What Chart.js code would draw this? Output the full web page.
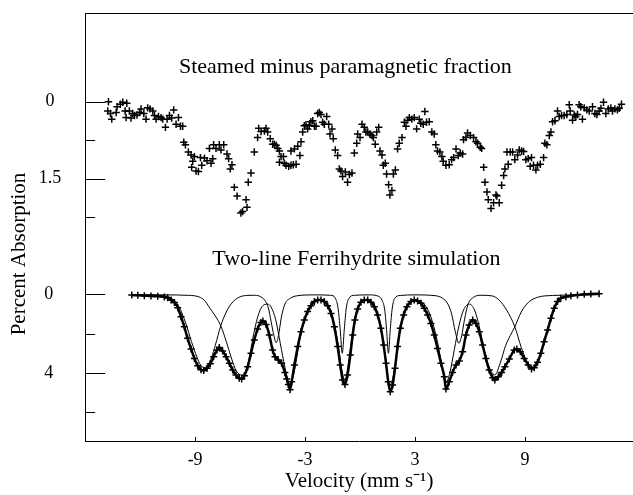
<!DOCTYPE html>
<html>
<head>
<meta charset="utf-8">
<script src="https://cdn.jsdelivr.net/npm/chart.js@4.4.0/dist/chart.umd.min.js"></script>
<style>
  body { margin: 0; background: #fff; }
  canvas { display: block; }
</style>
</head>
<body>
<canvas id="myChart" width="633" height="495"></canvas>
<script>

// upper spectrum: steamed minus paramagnetic fraction (velocity, % absorption)
var topVel = [-13.73,-13.77,-13.62,-13.55,-13.31,-13.26,-13.08,-12.95,-12.82,-12.73,-12.77,-12.59,-12.50,-12.41,-12.31,-12.17,-12.04,-11.95,-11.80,-11.68,
  -11.59,-11.46,-11.31,-11.22,-11.13,-11.00,-10.86,-10.77,-10.62,-10.53,-10.40,-10.28,-10.17,-10.04,-9.91,-9.80,-9.68,-9.62,-9.53,-9.37,
  -9.22,-9.13,-9.19,-9.04,-8.95,-8.82,-8.71,-8.64,-8.49,-8.35,-8.22,-8.13,-8.04,-7.99,-7.86,-7.68,-7.59,-7.44,-7.26,-7.17,
  -7.08,-6.99,-6.86,-6.71,-6.50,-6.41,-6.22,-6.17,-6.10,-5.95,-5.77,-5.59,-5.53,-5.40,-5.22,-5.13,-5.04,-4.90,-4.77,
  -4.68,-4.58,-4.49,-4.40,-4.31,-4.40,-4.18,-4.13,-4.04,-3.89,-3.77,-3.77,-3.64,-3.58,-3.49,-3.40,-3.28,-3.22,-3.13,-3.04,
  -2.95,-2.86,-2.77,-2.68,-2.58,-2.49,-2.40,-2.31,-2.22,-2.13,-2.04,-1.95,-1.82,-1.71,-1.64,-1.53,-1.46,-1.35,-1.22,-1.13,
  -1.04,-0.95,-0.80,-0.68,-0.58,-0.44,-0.31,-0.18,-0.13,0.00,0.11,0.23,0.32,0.42,0.54,0.65,0.73,0.83,0.91,1.02,
  1.09,1.20,1.27,1.38,1.45,1.56,1.74,1.63,1.82,1.93,2.05,2.14,2.29,2.42,2.51,2.60,2.69,2.83,2.96,3.09,
  3.23,3.32,3.45,3.54,3.63,3.78,3.92,4.05,4.14,4.23,4.36,4.47,4.54,4.69,
  4.87,5.00,5.11,5.24,5.36,5.47,5.60,5.65,5.78,5.87,6.02,6.20,6.33,6.42,6.56,6.64,6.75,6.82,6.93,7.00,
  7.15,7.29,7.42,7.47,7.60,7.73,7.84,7.91,8.02,8.09,8.20,8.33,8.45,8.60,8.69,8.82,8.93,9.05,9.18,9.29,
  9.36,9.47,9.60,9.69,9.84,10.02,10.09,10.20,10.33,10.42,10.51,10.64,10.78,10.87,11.00,11.14,11.29,11.42,11.47,11.60,
  11.69,11.78,11.87,11.96,12.05,12.14,12.24,12.38,12.51,12.69,12.82,12.93,13.05,13.15,13.29,13.42,13.55,13.69,13.78,13.91,
  14.05,14.15,14.27];
var topAbs = [0.00,0.18,0.23,0.34,0.21,0.10,0.05,0.01,0.18,0.03,0.31,0.18,0.32,0.23,0.27,0.26,0.21,0.14,0.23,0.34,
  0.12,0.14,0.18,0.27,0.34,0.29,0.31,0.34,0.50,0.34,0.27,0.32,0.16,0.44,0.31,0.48,0.48,0.79,0.84,0.98,
  1.04,1.16,1.28,1.07,1.35,1.36,1.09,1.24,1.10,1.15,0.91,1.20,1.11,0.84,0.91,0.84,0.94,0.84,1.02,1.11,
  1.31,1.23,1.67,1.84,2.17,2.14,1.91,2.06,1.57,1.39,0.98,0.70,0.52,0.58,0.57,0.52,0.59,0.72,0.83,
  0.83,0.85,0.91,0.96,1.07,1.18,1.07,1.20,1.24,1.26,0.96,1.24,1.23,0.92,1.22,0.87,1.05,0.78,0.59,0.47,
  0.45,0.53,0.47,0.39,0.37,0.48,0.48,0.23,0.21,0.25,0.40,0.44,0.29,0.44,0.63,0.53,0.72,0.94,1.05,1.31,
  1.35,1.46,1.37,1.57,1.42,1.39,1.00,0.81,0.63,0.70,0.44,0.50,0.59,0.59,0.63,0.66,0.70,0.83,0.59,0.50,
  0.96,1.04,1.24,1.20,1.41,1.62,1.73,1.82,1.41,1.33,0.92,0.81,0.70,0.40,0.48,0.36,0.31,0.34,0.31,0.53,
  0.34,0.42,0.44,0.19,0.40,0.39,0.59,0.63,0.84,0.96,0.98,1.07,1.16,1.24,
  1.23,1.13,1.09,0.92,1.05,1.00,1.02,0.74,0.70,0.61,0.66,0.70,0.78,0.81,0.89,0.91,1.28,1.57,1.76,1.91,
  2.08,1.97,1.82,1.84,1.97,1.63,1.44,1.31,0.98,1.22,0.98,0.98,1.13,1.04,0.94,0.96,0.97,1.13,1.11,1.26,
  1.09,1.24,1.33,1.24,1.22,1.09,0.81,0.84,0.66,0.59,0.39,0.37,0.18,0.29,0.27,0.27,0.25,0.06,0.18,0.36,
  0.26,0.29,0.25,0.06,0.10,0.34,0.12,0.16,0.18,0.10,0.23,0.25,0.18,0.13,0.01,0.23,0.14,0.12,0.18,0.14,
  0.16,0.13,0.05];

// lower spectrum: two-line ferrihydrite simulation, total
var simVel = [-12.46,-12.13,-11.77,-11.41,-11.04,-10.68,-10.50,-10.31,-10.13,-9.95,-9.77,-9.59,-9.41,-9.22,-9.04,-8.86,-8.68,-8.53,-8.35,-8.17,
  -7.99,-7.81,-7.68,-7.50,-7.31,-7.13,-6.95,-6.77,-6.59,-6.46,-6.31,-6.13,-5.95,-5.77,-5.59,-5.41,-5.30,-5.13,-4.95,-4.77,
  -4.64,-4.46,-4.28,-4.10,-4.00,-3.91,-3.82,-3.73,-3.58,-3.40,-3.22,-3.04,-2.86,-2.68,-2.49,-2.31,-2.13,-1.95,-1.77,-1.58,
  -1.40,-1.22,-1.08,-0.95,-0.82,-0.68,-0.53,-0.40,-0.28,-0.13,0.05,0.23,0.42,0.60,0.78,0.96,1.14,1.29,1.42,1.54,
  1.65,1.78,1.91,2.05,2.20,2.38,2.56,2.78,2.96,3.14,3.33,3.51,3.69,3.87,4.05,4.23,4.42,4.60,4.69,4.87,
  5.05,5.24,5.42,5.60,5.78,5.96,6.15,6.33,6.51,6.69,6.87,7.05,7.24,7.36,7.55,7.73,7.91,8.15,8.42,8.56,
  8.75,8.96,9.18,9.36,9.51,9.69,9.87,10.05,10.24,10.42,10.60,10.78,10.96,11.24,11.51,11.87,12.24,12.60,13.05];
var simTotal = [0.04,0.05,0.07,0.09,0.10,0.14,0.17,0.29,0.42,0.68,1.14,1.65,2.24,2.78,3.26,3.63,3.83,3.87,3.76,3.53,
  3.17,2.83,2.71,2.88,3.17,3.51,3.85,4.10,4.27,4.31,4.14,3.68,3.00,2.32,1.76,1.43,1.36,1.53,2.07,2.83,
  3.17,3.34,3.51,3.97,4.30,4.58,4.85,4.44,3.59,2.66,1.90,1.31,0.88,0.58,0.37,0.29,0.29,0.37,0.58,0.97,
  1.65,2.66,3.59,4.36,4.58,4.10,3.09,2.07,1.31,0.75,0.41,0.29,0.29,0.41,0.63,1.05,1.73,2.58,3.51,4.44,
  4.95,4.61,3.76,2.66,1.73,1.05,0.63,0.37,0.29,0.34,0.46,0.71,1.05,1.48,2.07,2.75,3.51,4.19,4.81,4.44,
  3.97,3.59,3.39,2.92,2.07,1.56,1.31,1.48,1.90,2.58,3.26,3.85,4.24,4.36,4.19,3.97,3.68,3.29,2.83,2.78,
  2.92,3.26,3.59,3.80,3.73,3.46,3.00,2.41,1.82,1.22,0.71,0.37,0.20,0.12,0.07,0.04,0.00,-0.02,-0.03];

// sextet component with outer lines at -8.5 / 9.4
var compAVel = [-12.5,-11.5,-10.8,-10.3,-9.9,-9.5,-9.2,-8.9,-8.7,-8.5,-8.3,-8.1,-7.9,-7.6,-7.3,-7.0,-6.6,-6.2,-5.8,-5.5,
  -5.2,-5.0,-4.85,-4.7,-4.58,-4.45,-4.3,-4.1,-3.8,-3.4,-2.5,-1.6,-1.35,-1.2,-1.08,-0.97,-0.86,-0.75,-0.6,-0.3,
  0.5,1.0,1.2,1.35,1.45,1.55,1.65,1.76,1.9,2.2,3.0,4.1,4.5,4.8,5.0,5.2,5.4,5.55,5.7,5.9,
  6.2,6.6,7.2,7.6,8.0,8.45,8.8,9.1,9.36,9.6,9.9,10.2,10.5,10.8,11.1,11.6,13.05];
var compA = [0.02,0.03,0.06,0.2,0.6,1.5,2.4,3.2,3.6,3.72,3.6,3.2,2.6,1.6,0.9,0.45,0.15,0.06,0.05,0.09,
  0.3,0.7,1.4,2.1,2.46,2.1,1.2,0.5,0.2,0.07,0.03,0.05,0.2,0.7,1.8,3.0,1.8,0.7,0.2,0.05,
  0.03,0.1,0.3,0.8,1.8,3.0,1.8,0.7,0.2,0.06,0.03,0.07,0.2,0.5,1.0,1.9,2.49,2.1,1.3,0.5,
  0.15,0.05,0.08,0.3,0.8,1.65,2.7,3.4,3.7,3.5,2.9,1.9,1.0,0.4,0.15,0.05,0.0];

// sextet component with outer lines at -6.5 / 7.4
var compBVel = [-12.5,-10.5,-9.5,-8.9,-8.5,-8.2,-7.9,-7.6,-7.3,-7.0,-6.75,-6.46,-6.2,-6.0,-5.8,-5.6,-5.4,-5.2,-5.04,-4.85,
  -4.6,-4.35,-4.1,-3.85,-3.65,-3.45,-3.2,-2.9,-2.6,-2.3,-2.0,-1.7,-1.45,-1.2,-1.0,-0.82,-0.65,-0.45,-0.25,0.0,
  0.3,0.6,0.9,1.15,1.35,1.5,1.65,1.8,2.0,2.2,2.45,2.8,3.1,3.5,3.85,4.2,4.45,4.69,4.9,5.15,
  5.4,5.65,5.96,6.25,6.5,6.8,7.05,7.36,7.65,7.95,8.2,8.45,8.8,9.2,9.7,10.5,11.5,13.05];
var compB = [0.03,0.03,0.05,0.1,0.3,0.7,1.1,1.6,2.4,3.3,3.9,4.1,3.8,3.0,2.0,1.2,0.7,0.52,0.5,0.65,
  1.3,2.5,3.7,4.55,4.2,3.2,1.9,1.0,0.5,0.3,0.35,0.6,1.3,2.5,3.8,4.35,3.6,2.2,1.1,0.5,
  0.3,0.35,0.8,1.7,3.0,4.1,4.6,4.2,3.0,1.8,0.9,0.4,0.3,0.5,1.1,2.3,3.5,4.5,4.0,2.8,
  1.6,0.8,0.5,0.8,1.6,2.9,3.7,4.1,3.5,2.6,2.1,1.65,0.9,0.4,0.15,0.06,0.04,0.02];

// axes
var velTicks = [-9, -3, 3, 9];
var topTicks = [0, 0.75, 1.5, 2.25];
var topLabelled = [0, 1.5];
var botTicks = [0, 2, 4, 6];
var botLabelled = [0, 4];

var topCaption = 'Steamed minus paramagnetic fraction';
var botCaption = 'Two-line Ferrihydrite simulation';

function pairs(xs, ys) {
    var out = [];
    for (var i = 0; i < xs.length; i++) {
        out.push({x: xs[i], y: ys[i]});
    }
    return out;
}

var serif = '"Liberation Serif", "Times New Roman", serif';

// inward tick marks, top frame line and the two captions
var decor = {
    id: 'decor',
    afterDraw: function(chart) {
        var ctx = chart.ctx;
        var area = chart.chartArea;
        var sx = chart.scales.x;
        ctx.save();
        ctx.strokeStyle = '#000';
        ctx.lineWidth = 1;
        ctx.beginPath();
        ctx.moveTo(area.left, area.top + 0.5);
        ctx.lineTo(area.right, area.top + 0.5);
        [['yTop', topLabelled], ['yBot', botLabelled]].forEach(function(p) {
            var s = chart.scales[p[0]];
            s.ticks.forEach(function(t) {
                var y = Math.round(s.getPixelForValue(t.value)) + 0.5;
                var len = p[1].indexOf(t.value) >= 0 ? 20 : 10;
                ctx.moveTo(area.left, y);
                ctx.lineTo(area.left + len, y);
            });
        });
        sx.ticks.forEach(function(t) {
            var x = Math.round(sx.getPixelForValue(t.value)) + 0.5;
            ctx.moveTo(x, area.bottom);
            ctx.lineTo(x, area.bottom - 4);
        });
        ctx.stroke();

        ctx.fillStyle = '#000';
        ctx.font = '22px ' + serif;
        ctx.textAlign = 'center';
        ctx.textBaseline = 'alphabetic';
        ctx.fillText(topCaption, sx.getPixelForValue(-0.8), chart.scales.yTop.getPixelForValue(-0.56));
        ctx.fillText(botCaption, sx.getPixelForValue(-0.2), chart.scales.yBot.getPixelForValue(-1.49));
        ctx.restore();
    }
};

var ctx = document.getElementById('myChart').getContext('2d');

var chart = new Chart(ctx, {
    type: 'scatter',
    data: {
        datasets: [{
                label: 'steamed',
                data: pairs(topVel, topAbs),
                yAxisID: 'yTop',
                showLine: false,
                pointStyle: 'cross',
                pointRadius: 3.7,
                pointBorderWidth: 1.5,
                borderColor: '#000',
                backgroundColor: '#000'
            },
            {
                label: 'total',
                data: pairs(simVel, simTotal),
                yAxisID: 'yBot',
                showLine: true,
                borderWidth: 2.5,
                cubicInterpolationMode: 'monotone',
                pointStyle: 'cross',
                pointRadius: 3.5,
                pointBorderWidth: 1.5,
                borderColor: '#000',
                backgroundColor: '#000'
            },
            {
                label: 'component A',
                data: pairs(compAVel, compA),
                yAxisID: 'yBot',
                showLine: true,
                borderWidth: 1,
                cubicInterpolationMode: 'monotone',
                pointRadius: 0,
                borderColor: '#000'
            },
            {
                label: 'component B',
                data: pairs(compBVel, compB),
                yAxisID: 'yBot',
                showLine: true,
                borderWidth: 1,
                cubicInterpolationMode: 'monotone',
                pointRadius: 0,
                borderColor: '#000'
            }
        ]
    },
    options: {
        responsive: false,
        animation: false,
        layout: { autoPadding: false, padding: { top: 13, right: 0, bottom: 0, left: 0 } },
        plugins: {
            legend: { display: false },
            tooltip: { enabled: false },
            title: {
                display: true,
                position: 'left',
                text: 'Percent Absorption',
                color: '#000',
                font: { family: serif, size: 21, weight: 'normal' },
                padding: { top: 7, bottom: 0 }
            }
        },
        scales: {
            x: {
                type: 'linear',
                min: -15,
                max: 14.9,
                afterBuildTicks: function(s) { s.ticks = velTicks.map(function(v) { return {value: v}; }); },
                afterFit: function(s) { s.height = 54; },
                grid: { drawOnChartArea: false, drawTicks: true, tickLength: 8, tickColor: 'rgba(0,0,0,0)' },
                border: { color: '#000', width: 1 },
                ticks: { color: '#000', padding: 0, font: { family: serif, size: 18 } },
                title: {
                    display: true,
                    text: 'Velocity (mm s\u207B\u00B9)',
                    color: '#000',
                    font: { family: serif, size: 21 },
                    padding: { top: 0, bottom: 1 }
                }
            },
            yTop: {
                type: 'linear',
                position: 'left',
                stack: 'abs',
                stackWeight: 243,
                weight: 1,
                reverse: true,
                min: -1.729,
                max: 3.008,
                afterBuildTicks: function(s) { s.ticks = topTicks.map(function(v) { return {value: v}; }); },
                afterFit: function(s) { s.width = 53; },
                grid: { drawOnChartArea: false, drawTicks: true, tickLength: 24, tickColor: 'rgba(0,0,0,0)' },
                border: { color: '#000', width: 1 },
                ticks: {
                    color: '#000',
                    padding: 0,
                    crossAlign: 'center',
                    font: { family: serif, size: 18 },
                    callback: function(v) { return topLabelled.indexOf(v) >= 0 ? String(v) : ''; }
                }
            },
            yBot: {
                type: 'linear',
                position: 'left',
                stack: 'abs',
                stackWeight: 185,
                weight: 0,
                reverse: true,
                min: -1.947,
                max: 7.458,
                afterBuildTicks: function(s) { s.ticks = botTicks.map(function(v) { return {value: v}; }); },
                afterFit: function(s) { s.width = 53; },
                grid: { drawOnChartArea: false, drawTicks: true, tickLength: 32, tickColor: 'rgba(0,0,0,0)' },
                border: { color: '#000', width: 1 },
                ticks: {
                    color: '#000',
                    padding: 0,
                    crossAlign: 'center',
                    font: { family: serif, size: 18 },
                    callback: function(v) { return botLabelled.indexOf(v) >= 0 ? String(v) : ''; }
                }
            }
        }
    },
    plugins: [decor]
});
</script>
</body>
</html>
